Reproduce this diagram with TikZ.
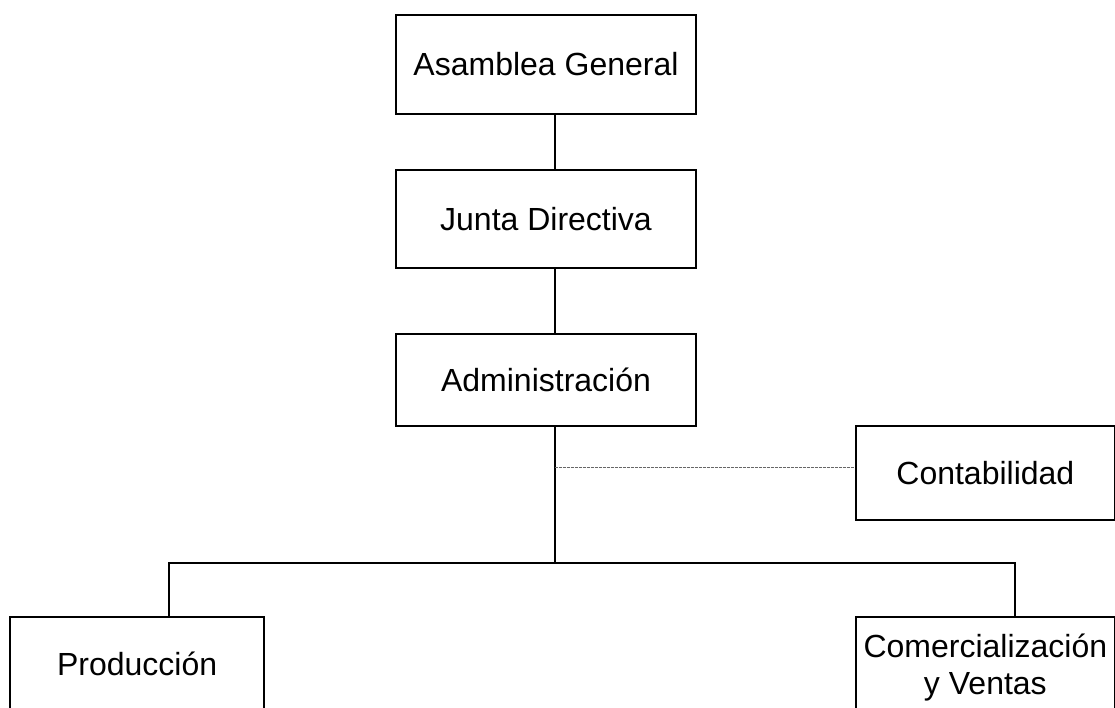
\documentclass[tikz,border=0pt]{standalone}
\usepackage{fontspec}
\setmainfont{Liberation Sans}
\begin{document}
\begin{tikzpicture}[x=1pt,y=-1pt,
  orgbox/.style={draw=black, line width=2pt, inner sep=0pt, anchor=north west,
    font=\fontsize{32}{37}\selectfont, align=center},
  link/.style={draw=black, line width=2pt},
  staff/.style={draw=black!60, line width=1.2pt, dash pattern=on 3pt off 1pt}]
\useasboundingbox (0,0) rectangle (1115,708);
\node[orgbox, minimum width=300pt, minimum height=98.7pt] (ag) at (395,14) {Asamblea General};
\node[orgbox, minimum width=300pt, minimum height=98.3pt] (jd) at (395,169) {Junta Directiva};
\node[orgbox, minimum width=300pt, minimum height=92.3pt] (ad) at (395,332.7) {Administración};
\node[orgbox, minimum width=259.3pt, minimum height=94.3pt] (co) at (854.7,425) {Contabilidad};
\node[orgbox, minimum width=254.3pt, minimum height=94pt] (pr) at (9,616) {Producción};
\node[orgbox, minimum width=259.3pt, minimum height=94pt, text depth=0pt] (cv) at (854.7,616) {Comercialización\\y Ventas};
\coordinate (spine) at (554.7,0);
\coordinate (bus) at (554.7,563);
\coordinate (dashstart) at (554.7,467.7);
\coordinate (busL) at (169,563);
\coordinate (busR) at (1014.7,563);
\draw[link] (ag.south -| spine) -- (jd.north -| spine);
\draw[link] (jd.south -| spine) -- (ad.north -| spine);
\draw[link] (ad.south -| spine) -- (bus);
\draw[staff] (dashstart) -- (dashstart -| co.west);
\draw[link] (pr.north -| busL) -- (busL) -- (busR) -- (cv.north -| busR);
\end{tikzpicture}
\end{document}
